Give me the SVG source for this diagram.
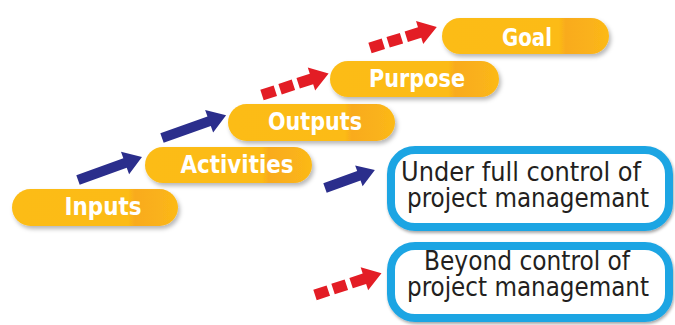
<svg xmlns="http://www.w3.org/2000/svg" width="675" height="325" viewBox="0 0 675 325">
<defs>
<linearGradient id="pillGrad" x1="0" y1="0" x2="1" y2="0">
<stop offset="0" stop-color="#FCBC16"/>
<stop offset="0.70" stop-color="#FCBB17"/>
<stop offset="0.74" stop-color="#F9AB1C"/>
<stop offset="0.9" stop-color="#FAB21A"/>
<stop offset="1" stop-color="#FCBA18"/>
</linearGradient>
<filter id="sh" x="-10%" y="-20%" width="125%" height="160%">
<feDropShadow dx="2" dy="3" stdDeviation="2" flood-color="#000" flood-opacity="0.28"/>
</filter>
<filter id="bsh" x="-5%" y="-10%" width="115%" height="130%">
<feDropShadow dx="1" dy="2" stdDeviation="1.5" flood-color="#000" flood-opacity="0.35"/>
</filter>
<path id="blueArrow" d="M0,-5 H50 V-12 L68,0 L50,12 V5 H0 Z"/>
<path id="blueArrowShort" d="M0,-5 H36 V-11 L53,0 L36,11 V5 H0 Z"/>
<path id="redArrow" d="M0,-5.5 H14 V5.5 H0 Z M19,-5.5 H33 V5.5 H19 Z M38,-5.5 H52 V-12 L70,0 L52,12 V5.5 H38 Z"/>
</defs>
<style>
.pill{fill:url(#pillGrad);filter:url(#sh)}
.plab{font-family:"DejaVu Sans Condensed","Liberation Sans Narrow","Liberation Sans",sans-serif;font-weight:bold;font-size:25px;fill:#FFFFFF;text-anchor:middle}
.box{fill:#FFFFFF;stroke:#1EA5E3;stroke-width:8;filter:url(#bsh)}
.blab{font-family:"Liberation Sans Narrow","DejaVu Sans Condensed","Liberation Sans",sans-serif;font-size:26px;fill:#231F20}
.blue{fill:#2B2E8C}
.red{fill:#E31D25}
</style>
<rect width="675" height="325" fill="#FFFFFF"/>
<g id="connectors">
<use href="#blueArrow" class="blue" transform="translate(78,180) rotate(-19.8)"/>
<use href="#blueArrow" class="blue" transform="translate(162,138) rotate(-19.5)"/>
<use href="#redArrow" class="red" transform="translate(262,95) rotate(-17.9)"/>
<use href="#redArrow" class="red" transform="translate(370,48) rotate(-17.4)"/>
<use href="#blueArrowShort" class="blue" transform="translate(325,188) rotate(-19.8)"/>
<use href="#redArrow" class="red" transform="translate(315,295) rotate(-18.2)"/>
</g>
<g id="inputs">
<rect class="pill" x="12" y="189" width="166" height="37" rx="18.5"/>
<text class="plab" x="103" y="215" textLength="77" lengthAdjust="spacingAndGlyphs">Inputs</text>
</g>
<g id="activities">
<rect class="pill" x="145" y="147" width="167" height="36" rx="18"/>
<text class="plab" x="237" y="173" textLength="113" lengthAdjust="spacingAndGlyphs">Activities</text>
</g>
<g id="outputs">
<rect class="pill" x="228" y="104" width="167" height="37" rx="18.5"/>
<text class="plab" x="315" y="130" textLength="94" lengthAdjust="spacingAndGlyphs">Outputs</text>
</g>
<g id="purpose">
<rect class="pill" x="330" y="61" width="169" height="36" rx="18"/>
<text class="plab" x="417" y="87" textLength="96" lengthAdjust="spacingAndGlyphs">Purpose</text>
</g>
<g id="goal">
<rect class="pill" x="442" y="18" width="167" height="36" rx="18"/>
<text class="plab" x="527" y="46" textLength="50" lengthAdjust="spacingAndGlyphs">Goal</text>
</g>
<g id="legend-under">
<rect class="box" x="391" y="150" width="278" height="77" rx="24"/>
<text class="blab" x="401" y="181" textLength="240" lengthAdjust="spacingAndGlyphs">Under full control of</text>
<text class="blab" x="407" y="207" textLength="242" lengthAdjust="spacingAndGlyphs">project managemant</text>
</g>
<g id="legend-beyond">
<rect class="box" x="391" y="246" width="278" height="72" rx="24"/>
<text class="blab" x="424" y="270" textLength="206" lengthAdjust="spacingAndGlyphs">Beyond control of</text>
<text class="blab" x="407" y="296" textLength="242" lengthAdjust="spacingAndGlyphs">project managemant</text>
</g>
</svg>
